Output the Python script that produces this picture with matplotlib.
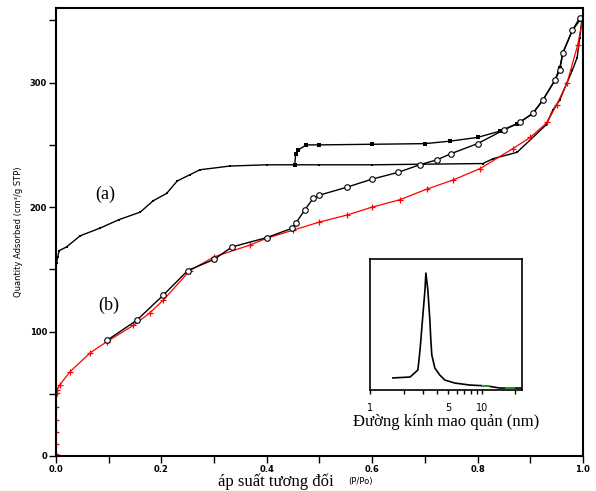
import matplotlib
matplotlib.use('Agg')
import matplotlib.pyplot as plt
from matplotlib.ticker import MultipleLocator, NullFormatter, FixedLocator

# (a) nhánh hấp phụ
a_ads_x = [0.0, 0.001, 0.003, 0.006, 0.02, 0.046, 0.083, 0.12, 0.16, 0.184, 0.21, 0.23,
           0.254, 0.273, 0.33, 0.4, 0.5, 0.6, 0.7, 0.81, 0.83, 0.875, 0.93, 0.943,
           0.956, 0.97, 0.98, 0.989, 0.994, 0.998]
a_ads_y = [150, 155, 160, 165, 168, 177, 183, 190, 196, 205, 211, 221,
           226, 230, 233, 234, 234, 234, 234.5, 235, 239, 244, 266, 278,
           286, 300, 310, 320, 336, 350]
# (a) nhánh giải hấp
a_des_x = [1.0, 0.994, 0.98, 0.962, 0.956, 0.947, 0.924, 0.905, 0.875, 0.842, 0.8,
           0.748, 0.7, 0.6, 0.5, 0.475, 0.46, 0.455, 0.453]
a_des_y = [352, 350, 342, 324, 312, 302, 286, 275, 267, 261, 256,
           253, 251, 250.5, 250, 250, 246, 243, 234]
# (b) nhánh hấp phụ (đỏ)
b_ads_x = [0.0, 0.0, 0.0, 0.0, 0.0, 0.001, 0.002, 0.007, 0.026, 0.065, 0.097, 0.147,
           0.178, 0.203, 0.254, 0.30, 0.368, 0.40, 0.45, 0.5, 0.552, 0.60, 0.653,
           0.704, 0.753, 0.805, 0.867, 0.90, 0.932, 0.95, 0.97, 0.99, 1.0]
b_ads_y = [2, 10, 19, 29, 39, 51, 53, 57, 67.5, 83, 92, 105,
           115, 125, 149, 160, 169.5, 175, 181.5, 188, 193.6, 200, 206,
           214.5, 221.7, 231, 247, 256, 268, 282, 300, 330, 352]
# (b) nhánh giải hấp (vòng tròn rỗng)
b_des_x = [0.994, 0.98, 0.962, 0.956, 0.947, 0.924, 0.905, 0.88, 0.85, 0.8, 0.75,
           0.723, 0.69, 0.65, 0.6, 0.552, 0.5, 0.488, 0.472, 0.455, 0.448, 0.40,
           0.334, 0.30, 0.25, 0.203, 0.153, 0.097]
b_des_y = [352, 342, 324, 310, 302, 286, 275.5, 268, 262, 251, 243,
           238, 234, 228, 222.5, 216, 209.6, 207, 197.6, 187, 183, 175.5,
           168, 158, 149, 129, 109, 93]

# phân bố mao quản (hình nhỏ)
pore_d = [1.6, 2.28, 2.68, 2.8, 2.97, 3.1, 3.16, 3.29, 3.43, 3.5, 3.57, 3.8,
          4.2, 4.67, 5.74, 7.8, 11.1, 14.5, 22.8]
pore_v = [0.092, 0.099, 0.153, 0.305, 0.573, 0.763, 0.893, 0.763, 0.534, 0.382,
          0.267, 0.168, 0.115, 0.076, 0.053, 0.038, 0.031, 0.015, 0.015]

fig = plt.figure(figsize=(5.96, 4.91), dpi=100)
ax = fig.add_axes([0.094, 0.0713, 0.884, 0.9124])

ax.plot(a_ads_x, a_ads_y, color='black', lw=1.0, marker='s', ms=2, mew=0)
ax.plot(a_des_x, a_des_y, color='black', lw=1.0, marker='s', ms=2.5, mew=0)
ax.plot(b_ads_x, b_ads_y, color='red', lw=0.9, marker='+', ms=5, mew=0.9)
ax.plot(b_des_x, b_des_y, color='black', lw=1.0, marker='o', ms=4, mfc='white', mew=0.8)

ax.set_xlim(0, 1.0)
ax.set_ylim(0, 360)
ax.xaxis.set_major_locator(MultipleLocator(0.2))
ax.xaxis.set_minor_locator(MultipleLocator(0.1))
ax.yaxis.set_major_locator(MultipleLocator(100))
ax.yaxis.set_minor_locator(MultipleLocator(50))
ax.tick_params(which='both', direction='out', length=5, width=1, labelsize=6, pad=1.5)
for s in ax.spines.values():
    s.set_linewidth(1.5)
ax.set_xticklabels([f'{v:.1f}' for v in ax.get_xticks()], fontweight='bold')
ax.set_yticklabels([f'{int(v)}' for v in ax.get_yticks()], fontweight='bold')
ax.set_ylabel('Quantity Adsorbed (cm³/g STP)', fontsize=6, labelpad=5)

serif = ['Liberation Serif', 'DejaVu Serif']
ax.text(0.093, 210, '(a)', fontsize=13, family=serif, ha='center', va='center')
ax.text(0.10, 121, '(b)', fontsize=13, family=serif, ha='center', va='center')

fig.text(0.366, 0.010, 'áp suất tương đối', fontsize=12, family=serif)
fig.text(0.585, 0.014, '(P/Po)', fontsize=6)

# hình nhỏ
ins = fig.add_axes([0.621, 0.2057, 0.255, 0.2668])
ins.plot(pore_d, pore_v, color='black', lw=1.2)
ins.plot([10.2, 11.6], [0.032, 0.030], color='#22aa22', lw=1.2)
ins.plot([16.5, 19.5], [0.015, 0.015], color='#22aa22', lw=1.2)
ins.set_xscale('log')
ins.set_xlim(1, 23)
ins.set_ylim(0, 1)
ins.set_yticks([])
ins.xaxis.set_major_locator(FixedLocator([1, 5, 10]))
ins.xaxis.set_minor_locator(FixedLocator([2, 3, 4, 6, 7, 8, 9, 20]))
ins.xaxis.set_minor_formatter(NullFormatter())
ins.set_xticklabels(['1', '5', '10'])
ins.tick_params(which='both', direction='out', length=3, width=1, labelsize=7, pad=6)
for s in ins.spines.values():
    s.set_linewidth(1.2)
ins.set_xlabel('Đường kính mao quản (nm)', fontsize=12, family=serif, labelpad=1)

fig.savefig('out.png', dpi=100)
